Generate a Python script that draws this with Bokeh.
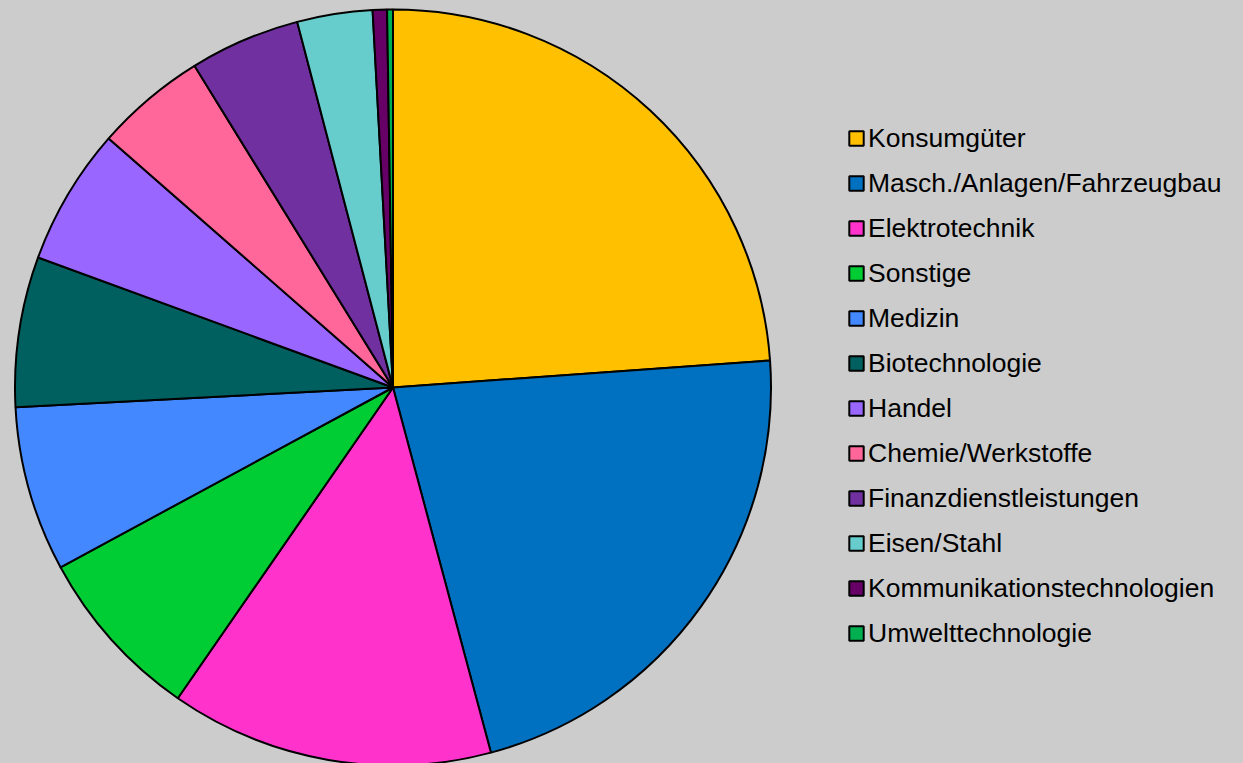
import math
from bokeh.plotting import figure
from bokeh.models import Legend, LegendItem
from bokeh.embed import file_html
from bokeh.resources import INLINE

categories = ["Konsumgüter", "Masch./Anlagen/Fahrzeugbau", "Elektrotechnik", "Sonstige",
              "Medizin", "Biotechnologie", "Handel", "Chemie/Werkstoffe",
              "Finanzdienstleistungen", "Eisen/Stahl", "Kommunikationstechnologien",
              "Umwelttechnologie"]
shares = [23.86, 21.97, 13.81, 7.47, 7.06, 6.42, 5.86, 4.75, 4.72, 3.22, 0.61, 0.25]
colors = ["#FFC000", "#0070C0", "#FF33CC", "#00CC33", "#4488FF", "#006060",
          "#9966FF", "#FF6699", "#7030A0", "#66CCCC", "#660066", "#00B050"]

W, H = 1243, 763
CX, CY, R = 392.5, H - 387, 378

total = sum(shares)
starts, ends = [], []
cum = 0.0
for v in shares:
    starts.append(math.pi / 2 - cum / total * 2 * math.pi)
    cum += v
    ends.append(math.pi / 2 - cum / total * 2 * math.pi)

p = figure(width=W, height=H, x_range=(0, W), y_range=(0, H),
           x_axis_type=None, y_axis_type=None, toolbar_location=None,
           output_backend="svg", min_border=0,
           background_fill_color="#CCCCCC", border_fill_color="#CCCCCC")
p.outline_line_color = None
p.grid.visible = False

items = []
for i, c in enumerate(categories):
    r = p.wedge(x=CX, y=CY, radius=R, start_angle=starts[i], end_angle=ends[i],
                direction="clock", fill_color=colors[i], line_color="black",
                line_width=2)
    items.append(LegendItem(label=c, renderers=[r]))

legend = Legend(items=items, location=(847, 114), padding=0, margin=0,
                spacing=13, glyph_width=18, glyph_height=18, label_height=32,
                label_standoff=3, label_text_font="Liberation Sans",
                label_text_font_size="26.5px", label_text_color="black",
                background_fill_alpha=0, border_line_color=None)
p.add_layout(legend, "center")

html = file_html(p, INLINE)
html = html.replace("<head>", "<head><style>body{background:#cccccc;}</style>", 1)
open("out.html", "w").write(html)
